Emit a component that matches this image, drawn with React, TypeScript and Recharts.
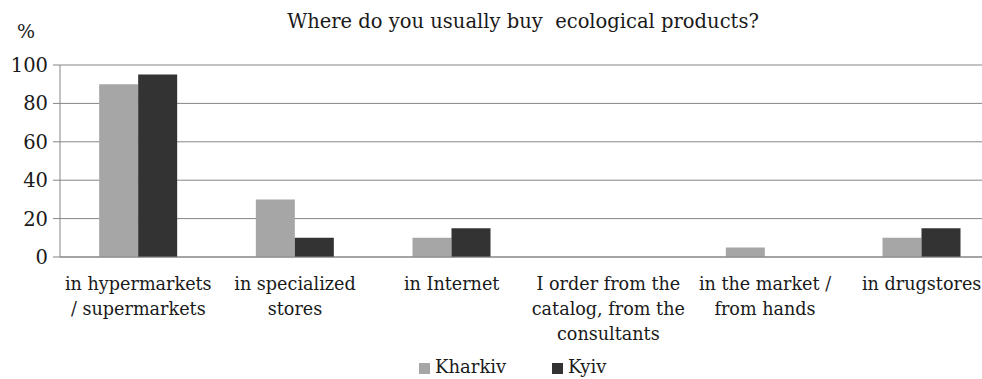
import React from 'react'
import { BarChart, Bar, XAxis, YAxis, CartesianGrid } from 'recharts'

const categories = [
  'in hypermarkets\n/ supermarkets',
  'in specialized\nstores',
  'in Internet',
  'I order from the\ncatalog, from the\nconsultants',
  'in the market /\nfrom hands',
  'in drugstores',
]
const kharkiv = [90, 30, 10, 0, 5, 10]
const kyiv = [95, 10, 15, 0, 0, 15]
const yTicks = [0, 20, 40, 60, 80, 100]

const data = categories.map((name, i) => ({ name, kharkiv: kharkiv[i], kyiv: kyiv[i] }))

const FONT = '"DejaVu Serif", serif'
const GRID = '#868686'
const TEXT = '#1a1a1a'

function CategoryTick(props: any) {
  const { x, y, payload } = props
  const lines: string[] = String(payload.value).split('\n')
  return (
    <text x={x} y={y} textAnchor="middle" fill={TEXT} fontFamily={FONT} fontSize={17.6}>
      {lines.map((line, i) => (
        <tspan key={i} x={x} y={y + 25 + i * 25}>
          {line}
        </tspan>
      ))}
    </text>
  )
}

export default function App() {
  return (
    <div style={{ position: 'absolute', left: 0, top: 0, width: 982, height: 379, overflow: 'hidden', background: '#fff' }}>
      <div
        style={{
          position: 'absolute', left: 0, width: 1046, top: 10, textAlign: 'center',
          fontFamily: FONT, fontSize: 19.5, color: TEXT, whiteSpace: 'pre',
        }}
      >
        Where do you usually buy  ecological products?
      </div>
      <div style={{ position: 'absolute', left: 17, top: 20, fontFamily: FONT, fontSize: 19, color: TEXT }}>%</div>
      <BarChart
        width={1000}
        height={379}
        data={data}
        margin={{ top: 65, right: 0, left: 0, bottom: 30 }}
        barCategoryGap="25%"
        barGap={0}
      >
        <CartesianGrid vertical={false} stroke={GRID} strokeWidth={1} />
        <XAxis
          dataKey="name"
          interval={0}
          height={92}
          tickLine={false}
          axisLine={{ stroke: GRID }}
          tick={<CategoryTick />}
        />
        <YAxis
          width={60}
          domain={[0, 100]}
          ticks={yTicks}
          tickSize={7}
          tickMargin={5}
          tickLine={{ stroke: GRID }}
          axisLine={{ stroke: GRID }}
          tick={{ fill: TEXT, fontFamily: FONT, fontSize: 19.5 }}
        />
        <Bar dataKey="kharkiv" fill="#a6a6a6" isAnimationActive={false} />
        <Bar dataKey="kyiv" fill="#333333" isAnimationActive={false} />
      </BarChart>
      <div style={{ position: 'absolute', top: 356, left: 0, width: 982, fontFamily: FONT, fontSize: 18, color: TEXT }}>
        <span style={{ position: 'absolute', left: 419, top: 7, width: 11, height: 11, background: '#a6a6a6' }} />
        <span style={{ position: 'absolute', left: 435, top: 0 }}>Kharkiv</span>
        <span style={{ position: 'absolute', left: 552, top: 7, width: 11, height: 11, background: '#333333' }} />
        <span style={{ position: 'absolute', left: 568, top: 0 }}>Kyiv</span>
      </div>
    </div>
  )
}
